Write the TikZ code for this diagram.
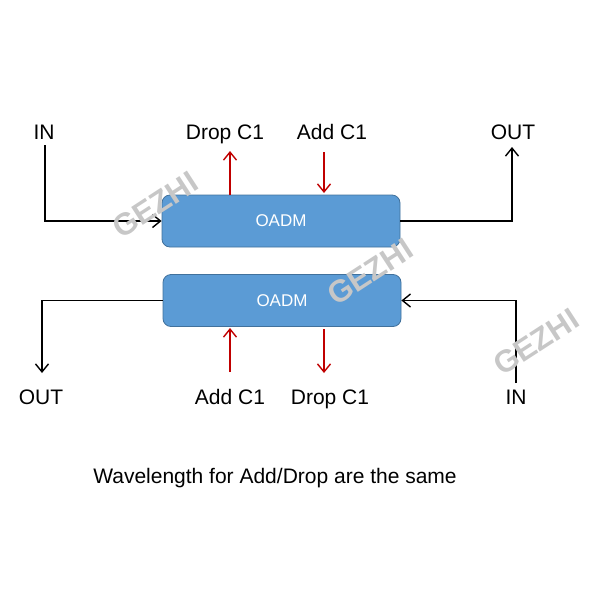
\documentclass[tikz,border=0pt]{standalone}
\usepackage{fontspec}
\setmainfont{Liberation Sans}
\usetikzlibrary{arrows.meta}
\definecolor{boxblue}{HTML}{5B9BD5}
\definecolor{boxedge}{HTML}{41719C}
\definecolor{darkred}{HTML}{C00000}
\begin{document}
\begin{tikzpicture}[x=1pt,y=-1pt,
  oadm/.style={rounded corners=8pt,fill=boxblue,draw=boxedge,line width=0.8pt,
    minimum width=238pt,minimum height=52pt,text=white,font=\fontsize{17}{20}\selectfont},
  lbl/.style={font=\fontsize{21}{25}\selectfont,inner sep=0pt,anchor=base},
  sig/.style={line width=1.4pt,-{Straight Barb[length=8pt,width=13pt]}},
  wmark/.style={font=\fontsize{31}{36}\selectfont\bfseries,text=black!22,rotate=33}]
\useasboundingbox (0,0) rectangle (600,600);
% the two add/drop multiplexers
\node[oadm] (top) at (281,221) {OADM};
\node[oadm] (bot) at (282,300.5) {OADM};
% labels
\node[lbl] (inA) at (44,139.5) {IN};
\node[lbl] (outA) at (513,139.5) {OUT};
\node[lbl] (dropA) at (225,139.5) {Drop C1};
\node[lbl] (addA) at (332,139.5) {Add C1};
\node[lbl] (outB) at (41,404) {OUT};
\node[lbl] (inB) at (516,404) {IN};
\node[lbl] (addB) at (230,404) {Add C1};
\node[lbl] (dropB) at (330,404) {Drop C1};
\node[lbl] (note) at (275,483) {Wavelength for Add/Drop are the same};
% upper path
\coordinate (inAend) at (45,145);
\draw[sig] (inAend) |- (top.west);
\draw[sig] (top.east) -| (512,147);
\draw[sig,darkred] (230,195) -- (230,151);
\draw[sig,darkred] (324,152) -- (324,193);
% lower path
\draw[sig] (bot.west) -| (42,373);
\coordinate (inBend) at (516,383);
\draw[sig] (inBend) |- (bot.east);
\draw[sig,darkred] (230,372) -- (230,328);
\draw[sig,darkred] (324,329) -- (324,373);
% watermark
\foreach \wx/\wy in {155/205,370/272,536/342}
  \node[wmark] at (\wx,\wy) {GEZHI};
\end{tikzpicture}
\end{document}
